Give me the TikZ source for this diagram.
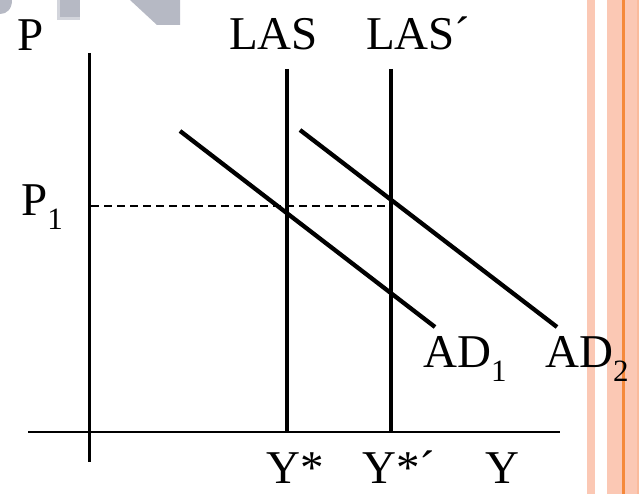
\documentclass[tikz,border=0pt]{standalone}
\usepackage{fontspec}
\setmainfont{Liberation Serif}
\definecolor{stripe}{HTML}{FBC8B4}
\definecolor{orangeline}{HTML}{F5893A}
\definecolor{wmgrey}{HTML}{B6B9C4}
\definecolor{wmlight}{HTML}{D3D5DC}
\tikzset{
  axis/.style={line width=2.6pt},
  lasline/.style={line width=4.5pt},
  adline/.style={line width=4.3pt},
  guide/.style={line width=2pt, dash pattern=on 8pt off 5pt},
  lbl/.style={inner sep=0pt, anchor=base west, font=\fontsize{47}{54}\selectfont},
}
\newcommand{\mysub}[1]{\raisebox{-14pt}{\fontsize{31}{31}\selectfont #1}}
\begin{document}
\begin{tikzpicture}[x=1pt,y=-1pt]
\useasboundingbox (0,0) rectangle (639,494);
% watermark fragments
\fill[wmgrey] (0,0) -- (12,0) .. controls (12,9) and (7,14) .. (0,14) -- cycle;
\fill[wmlight] (57,0) rectangle (80,20);
\fill[wmgrey] (60,0) rectangle (80,17);
\fill[wmgrey] (130,0) -- (180,0) -- (180,25) -- (157,25) -- cycle;
% stripes at right
\fill[stripe] (587,0) rectangle (595,494);
\fill[stripe] (607,0) rectangle (639,494);
\fill[orangeline] (622,0) rectangle (624.5,494);
\fill[stripe!80!orangeline] (637,0) rectangle (639,494);
% axes
\coordinate (ytop) at (89.5,53);
\coordinate (ybot) at (89.5,462);
\coordinate (xl) at (28,432);
\coordinate (xr) at (560,432);
\draw[axis] (ytop) -- (ybot);
\draw[axis] (xl) -- (xr);
% LAS lines
\coordinate (las1t) at (287,69);
\coordinate (las1b) at (287,432);
\coordinate (las2t) at (391,69);
\coordinate (las2b) at (391,432);
\draw[lasline] (las1t) -- (las1b);
\draw[lasline] (las2t) -- (las2b);
% AD lines
\coordinate (ad1s) at (180,131);
\coordinate (ad1e) at (435,327);
\coordinate (ad2s) at (300,130);
\coordinate (ad2e) at (557,327);
\draw[adline] (ad1s) -- (ad1e);
\draw[adline] (ad2s) -- (ad2e);
% dashed P1 line
\coordinate (p1a) at (91,206);
\coordinate (p1b) at (391,206);
\draw[guide] (p1a) -- (p1b);
% labels
\node[lbl] (P) at (17,51) {P};
\node[lbl] (LAS) at (229,50) {LAS};
\node[lbl] (LASp) at (366,50) {LAS´};
\node[lbl] (P1) at (21,215) {P\mysub{1}};
\node[lbl] (AD1) at (423,367) {AD\mysub{1}};
\node[lbl] (AD2) at (545,367) {AD\mysub{2}};
\node[lbl] (Ys) at (266,483) {Y*};
\node[lbl] (Ysp) at (362,483) {Y*´};
\node[lbl] (Y) at (485,483) {Y};
\end{tikzpicture}
\end{document}
